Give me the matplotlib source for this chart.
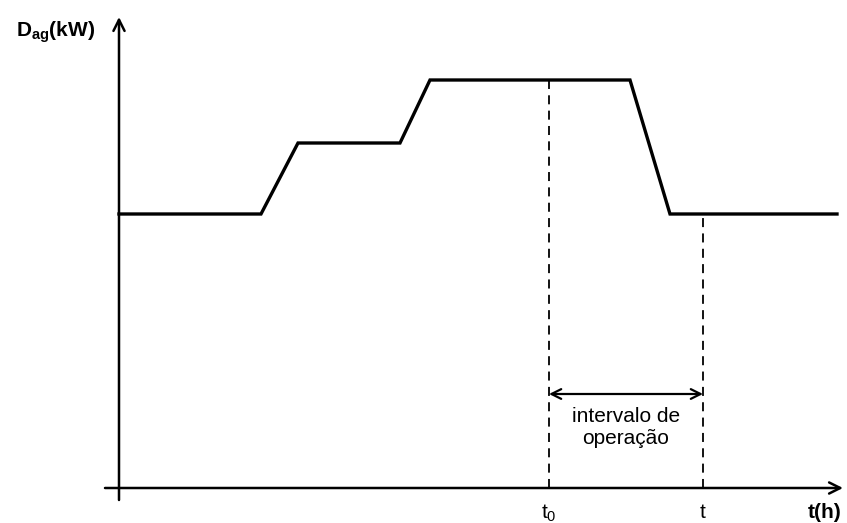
import numpy as np
import matplotlib.pyplot as plt

plt.rcParams['font.family'] = ['Liberation Sans', 'DejaVu Sans']
plt.rcParams['mathtext.fontset'] = 'custom'
plt.rcParams['mathtext.rm'] = 'Liberation Sans'
plt.rcParams['mathtext.it'] = 'Liberation Sans:italic'
plt.rcParams['mathtext.bf'] = 'Liberation Sans:bold'

# load curve (time units, demand units)
t_pts = [0, 142, 179, 281, 311, 511, 551, 718]
d_pts = [274, 274, 345, 345, 408, 408, 274, 274]
t0 = 430
t1 = 584
d_t0 = 408
d_t1 = 274
arrow_y = 94

fig = plt.figure(figsize=(8.47, 5.23), dpi=100)
ax = fig.add_axes([0, 0, 1, 1])
ax.set_xlim(-119, 728)
ax.set_ylim(-35, 488)
ax.axis('off')

# axes with arrows
ax.annotate('', xy=(0, 471), xytext=(0, -12),
            arrowprops=dict(arrowstyle='->,head_length=0.8,head_width=0.4', lw=1.8, color='black',
                            shrinkA=0, shrinkB=0))
ax.annotate('', xy=(724, 0), xytext=(-14, 0),
            arrowprops=dict(arrowstyle='->,head_length=0.8,head_width=0.4', lw=1.8, color='black',
                            shrinkA=0, shrinkB=0))

ax.plot(t_pts, d_pts, color='black', lw=2.4, solid_joinstyle='miter')

ax.plot([t0, t0], [0, d_t0], color='black', lw=1.3, ls=(0, (5, 3.5)))
ax.plot([t1, t1], [0, d_t1], color='black', lw=1.3, ls=(0, (5, 3.5)))

ax.annotate('', xy=(t0, arrow_y), xytext=(t1, arrow_y),
            arrowprops=dict(arrowstyle='<->,head_length=0.7,head_width=0.35', lw=1.6, color='black',
                            shrinkA=0, shrinkB=0))
ax.text((t0 + t1) / 2, arrow_y - 13, 'intervalo de\noperação', ha='center', va='top',
        fontsize=15, linespacing=1.2)

ax.text(t0, -25, r'$\mathregular{t_0}$', ha='center', va='center', fontsize=15)
ax.text(t1, -25, 't', ha='center', va='center', fontsize=15)
ax.text(706, -25, 't(h)', ha='center', va='center', fontsize=15, fontweight='bold')
ax.text(-63, 456, r'$\mathbf{D_{ag}}$' + '(kW)', ha='center', va='center', fontsize=15,
        fontweight='bold')

fig.savefig('out.png', dpi=100)
